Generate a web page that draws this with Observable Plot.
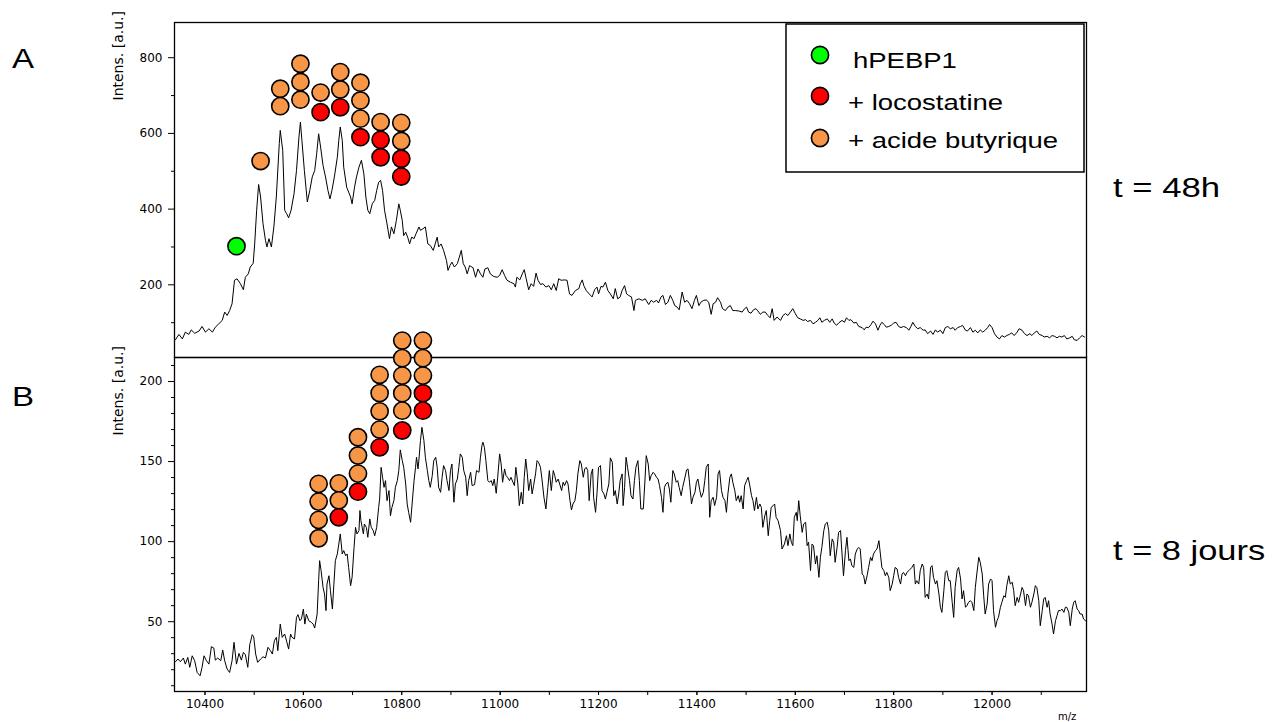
<!DOCTYPE html>
<html><head><meta charset="utf-8">
<script src="https://cdn.jsdelivr.net/npm/d3@7"></script>
<script src="https://cdn.jsdelivr.net/npm/@observablehq/plot@0.6"></script>
<style>
html,body{margin:0;padding:0;background:#fff;}
#wrap{position:relative;width:1273px;height:722px;overflow:hidden;font-family:"Liberation Sans",Arial,sans-serif;}
.layer{position:absolute;left:0;}
</style></head>
<body><div id="wrap"></div>
<script>
// ---------- data ----------
const xDomain = [10338, 12192];
const xMinorTicks = [10400,10500,10600,10700,10800,10900,11000,11100,11200,11300,11400,11500,11600,11700,11800,11900,12000,12100];
const xTickLabels = [10400, 10600, 10800, 11000, 11200, 11400, 11600, 11800, 12000];
const yTicksA = [200, 400, 600, 800];
const yMinorA = [100, 300, 500, 700];
const yTicksB = [50, 100, 150, 200];
const yMinorB = [10, 20, 30, 40, 60, 70, 80, 90, 110, 120, 130, 140, 160, 170, 180, 190, 210];
const seriesNames = ["hPEBP1", "+ locostatine", "+ acide butyrique"];
const seriesColors = ["#00ff00", "#ff0000", "#f79646"];
const panelLabels = ["A", "B"];
const timeLabels = ["t = 48h", "t = 8 jours"];
const yTitle = "Intens. [a.u.]";
const xTitle = "m/z";

// spectrum A (t = 48h): [m/z, intensity]
const spectrumA = [
[10340,55],[10347,69],[10354,57],[10360,75],[10367,69],[10372,81],[10379,72],[10388,78],[10394,90],[10401,75],[10408,84],[10415,75],[10421,88],[10428,97],[10435,106],[10440,128],[10445,119],[10450,132],[10455,150],[10460,212],[10465,216],[10472,203],[10478,187],[10482,220],[10488,229],[10492,247],[10498,257],[10501,308],[10505,397],[10509,465],[10513,432],[10518,361],[10523,317],[10526,300],[10530,322],[10535,300],[10540,353],[10545,432],[10551,573],[10553,608],[10558,555],[10562,397],[10566,388],[10570,377],[10575,397],[10581,441],[10586,502],[10591,590],[10594,630],[10597,582],[10602,502],[10608,419],[10613,449],[10618,485],[10623,502],[10627,546],[10631,599],[10635,564],[10640,515],[10645,485],[10650,449],[10654,427],[10658,449],[10663,485],[10669,537],[10672,582],[10675,617],[10679,582],[10682,511],[10688,458],[10692,445],[10696,432],[10699,414],[10704,458],[10708,485],[10713,511],[10718,529],[10723,493],[10727,432],[10731,397],[10735,388],[10740,414],[10745,423],[10749,449],[10753,471],[10757,476],[10761,449],[10765,397],[10770,361],[10775,322],[10779,353],[10784,335],[10789,370],[10794,414],[10797,397],[10801,370],[10804,330],[10808,339],[10812,326],[10816,308],[10820,326],[10825,322],[10829,335],[10835,353],[10838,344],[10843,348],[10848,353],[10853,308],[10858,304],[10864,291],[10869,313],[10872,326],[10875,300],[10880,308],[10885,291],[10891,264],[10894,238],[10898,251],[10902,260],[10907,247],[10913,256],[10917,273],[10921,291],[10925,256],[10929,247],[10933,229],[10938,251],
[10940,249],[10945,245],[10950,220],[10955,242],[10960,229],[10965,220],[10969,242],[10975,245],[10980,229],[10987,222],[10994,220],[10999,225],[11004,240],[11009,225],[11014,212],[11021,207],[11028,203],[11031,194],[11034,220],[11040,213],[11045,229],[11049,240],[11053,216],[11058,187],[11063,203],[11068,196],[11073,231],[11077,212],[11082,201],[11087,203],[11093,194],[11099,198],[11104,187],[11109,203],[11114,185],[11119,216],[11124,212],[11131,213],[11136,212],[11141,176],[11146,172],[11153,185],[11160,190],[11163,203],[11167,213],[11170,198],[11175,185],[11181,176],[11187,168],[11192,187],[11197,194],[11200,176],[11205,196],[11209,194],[11214,207],[11219,185],[11224,176],[11230,163],[11234,190],[11239,163],[11244,168],[11248,185],[11253,198],[11257,176],[11261,172],[11267,168],[11272,132],[11275,159],[11282,163],[11289,159],[11295,163],[11302,148],[11307,159],[11312,154],[11318,159],[11322,152],[11327,168],[11331,172],[11336,148],[11341,154],[11346,172],[11351,159],[11355,145],[11360,141],[11364,134],[11370,181],[11375,154],[11380,159],[11385,150],[11390,137],[11395,159],[11399,172],[11404,145],[11408,154],[11414,159],[11419,160],[11424,154],[11429,122],[11433,150],[11438,154],[11442,166],[11448,154],[11452,137],[11458,132],[11463,141],[11468,145],[11473,132],[11478,132],[11485,131],[11492,128],[11497,137],[11501,141],[11505,128],[11510,125],[11515,134],[11520,137],[11524,131],[11529,122],[11534,128],[11539,128],[11544,119],[11549,113],[11553,137],[11557,106],[11563,115],
[11570,106],[11575,119],[11580,124],[11585,119],[11590,128],[11595,137],[11600,124],[11605,113],[11610,110],[11616,106],[11621,108],[11625,103],[11631,106],[11636,97],[11641,101],[11646,106],[11650,113],[11654,101],[11659,106],[11665,110],[11670,101],[11675,110],[11679,99],[11684,93],[11688,99],[11695,106],[11700,101],[11704,113],[11709,106],[11713,108],[11719,99],[11724,101],[11729,90],[11736,87],[11740,81],[11744,88],[11749,87],[11754,95],[11758,104],[11763,97],[11768,80],[11772,93],[11776,101],[11781,95],[11785,88],[11790,90],[11795,93],[11800,99],[11805,101],[11810,90],[11815,87],[11820,90],[11826,87],[11831,80],[11835,90],[11839,101],[11844,90],[11849,84],[11854,87],[11860,80],[11864,81],[11869,71],[11875,78],[11880,69],[11885,81],[11889,75],[11895,80],[11900,71],[11905,87],[11910,90],[11915,84],[11921,87],[11925,80],[11930,87],[11936,90],[11940,93],[11946,80],[11950,78],[11956,87],[11961,75],[11966,80],[11971,73],[11976,81],[11981,75],[11986,80],[11991,87],[11995,95],[12000,87],[12005,71],[12010,62],[12015,57],[12020,66],[12025,62],[12030,66],[12035,69],[12040,73],[12045,66],[12051,75],[12055,84],[12061,80],[12066,71],[12071,66],[12077,71],[12081,66],[12086,73],[12091,78],[12096,69],[12102,66],[12106,62],[12112,64],[12117,60],[12122,66],[12127,64],[12132,60],[12137,64],[12142,62],[12147,66],[12152,57],[12158,60],[12163,64],[12167,55],[12173,53],[12178,60],[12183,66],[12188,62]
];

// spectrum B (t = 8 jours): [m/z, intensity]
const spectrumB = [
[10340,25],[10345,26.7],[10350,25],[10356,27.3],[10360,23.5],[10365,27.7],[10369,21.5],[10374,28.7],[10379,25.6],[10384,18.3],[10390,16.2],[10394,21.5],[10398,28.7],[10403,25.6],[10408,23.5],[10413,34.4],[10418,33.5],[10421,26],[10426,27.3],[10432,25.6],[10436,32.3],[10440,25.6],[10445,20.4],[10450,18.3],[10455,25.6],[10459,37.1],[10464,23.5],[10469,30.2],[10474,26],[10478,30.8],[10482,29.4],[10487,21.5],[10491,35.6],[10496,41.9],[10499,40.6],[10503,29.8],[10507,24.6],[10513,26.7],[10518,28.1],[10523,27.3],[10528,34],[10533,31.9],[10537,29.8],[10541,38.1],[10545,40.2],[10548,31.9],[10553,48.5],[10557,40.2],[10562,42.3],[10566,37.7],[10570,32.9],[10574,42.3],[10577,40.2],[10582,39.2],[10586,52.7],[10589,54.4],[10593,50.6],[10596,51.7],[10600,57.9],[10603,48.5],[10606,54.8],[10611,50.6],[10616,49.6],[10620,48.5],[10623,46],[10628,54.8],[10631,75.6],[10633,88.1],[10636,81.9],[10640,71.4],[10643,67.3],[10646,56.9],[10648,73.5],[10652,78.7],[10655,69.4],[10659,57.9],[10662,73.5],[10665,88.1],[10669,92.3],[10672,98.5],[10675,104.8],[10679,92.3],[10682,94.4],[10686,91.2],[10689,92.3],[10692,83.9],[10696,72.5],[10699,77.7],[10703,96.4],[10706,108.9],[10709,104.8],[10713,106.9],[10715,119.4],[10717,113.1],[10722,104.8],[10724,111],[10728,108.9],[10731,102.7],[10735,114.2],[10738,108.9],[10742,106.9],[10745,103.7],[10749,108.9],[10753,121.4],[10755,126.6],[10758,146.4],[10761,140.2],[10764,133.9],[10767,138.1],[10770,125.6],[10774,131.9],[10777,116.2],[10780,121.4],[10784,125.6],[10787,133.9],[10791,138.1],[10794,144.4],[10797,157.3],[10801,150.6],[10804,146.4],[10808,136],[10811,123.5],[10814,118.3],[10818,112.1],[10821,123.5],[10825,138.1],[10828,146.4],[10830,152.7],[10833,145.4],[10835,151.6],[10838,163.1],[10841,171.4],[10845,163.1],[10848,152.7],[10852,144.4],[10855,138.1],[10858,133.9],[10862,141.2],[10865,150.6],[10869,152.7],[10872,146.4],[10875,133.9],[10879,130.8],[10882,140.2],[10885,147.5],[10889,144.4],[10892,138.1],[10896,131.9],[10899,144.4],[10902,148.5],[10906,124.6],[10909,136],[10913,139.1],[10916,146.4],[10919,154.8],[10923,152.7],[10926,144.4],[10930,140.2],[10933,128.7],[10936,138.1],
[10940,143.3],[10943,135],[10948,135.6],[10952,144.4],[10957,143.3],[10960,152.7],[10963,160],[10965,162.1],[10968,158.9],[10971,150.6],[10975,138.1],[10978,137.1],[10982,138.1],[10985,135],[10988,139.1],[10992,130.2],[10995,140.2],[10999,154.8],[11002,148.5],[11005,137.1],[11009,145.4],[11012,141.2],[11015,140.2],[11019,138.1],[11022,140.2],[11026,137.1],[11029,135],[11032,146.4],[11036,136],[11039,122.5],[11043,130.8],[11046,123.5],[11049,140.2],[11052,151.6],[11055,143.3],[11058,131.9],[11062,139.1],[11065,129.8],[11068,135],[11072,142.3],[11075,150.6],[11078,149.6],[11082,146.4],[11085,139.1],[11089,127.7],[11093,120.4],[11097,133.9],[11100,144.4],[11104,131.9],[11108,144.4],[11111,141.2],[11114,137.1],[11118,139.1],[11121,136],[11125,131.9],[11128,137.1],[11131,135],[11135,138.1],[11138,136],[11142,125.6],[11145,119.8],[11148,123.5],[11152,125.6],[11155,131.9],[11158,142.3],[11162,150.6],[11165,148.5],[11169,140.2],[11172,145.4],[11175,146.4],[11178,144.4],[11181,125.6],[11185,142.3],[11188,145.4],[11190,127.7],[11194,118.3],[11197,130.8],[11200,146.4],[11204,147.5],[11207,131.9],[11211,129.8],[11214,126.6],[11217,130.8],[11221,136],[11224,152.3],[11228,149.6],[11231,128.7],[11234,131.9],[11238,123.5],[11241,129.8],[11244,138.1],[11248,142.3],[11250,122.5],[11253,133.9],[11256,152.7],[11259,146.4],[11263,138.1],[11266,128.7],[11270,126.6],[11273,138.1],[11276,146.4],[11280,150.6],[11283,138.1],[11286,120.4],[11291,120.4],[11294,136],[11297,153.7],[11301,148.5],[11304,138.1],[11307,141.2],[11311,143.3],[11314,142.3],[11318,140.2],[11321,139.1],[11324,135],[11328,127.7],[11331,118.3],[11334,133.9],[11337,136],[11341,137.1],[11344,132.9],[11347,124.6],[11351,144.4],[11354,142.3],[11358,137.1],[11361,138.1],[11364,133.9],[11368,128.7],[11371,133.9],[11375,139.1],[11379,144.8],[11382,145.4],[11385,137.1],[11389,123.5],[11392,127.7],[11396,130.8],[11399,137.1],[11402,139.1],[11406,131.9],[11409,127.7],[11413,130.8],[11416,138.1],[11419,146.4],[11423,148.5],[11426,115.2],[11429,125.6],[11433,127.7],[11436,122.5],[11440,127.7],[11443,142.3],[11446,144.4],[11450,131.9],[11453,127.7],[11457,125.6],[11460,118.3],[11463,129.8],[11467,140.2],[11470,142.3],[11473,137.1],[11477,131.9],[11480,125.6],[11484,128.7],[11487,124.6],[11490,128.7],[11494,120.4],[11497,135],[11501,138.1],[11504,140.2],[11507,136],[11511,128.7],[11514,125.6],[11517,119.4],[11521,127.7],[11524,120.4],[11528,123.5],[11531,121.4],[11534,108.9],[11538,116.2],[11541,119.4],[11545,103.7],[11548,113.1],[11551,121.4],[11555,122.5],[11558,123.5],[11561,115.2],[11565,113.1],
[11570,106.9],[11573,95.4],[11578,98.5],[11582,103.7],[11585,97.5],[11589,104.8],[11592,99.6],[11595,97.5],[11598,115.2],[11602,118.3],[11604,113.1],[11607,125.6],[11610,116.2],[11614,105.8],[11617,111],[11621,112.1],[11624,97.5],[11627,99.6],[11631,81.9],[11634,98.5],[11637,97.5],[11641,86],[11644,91.2],[11648,77.7],[11651,90.2],[11654,96.4],[11658,106.9],[11661,111],[11665,112.1],[11668,106.9],[11671,91.2],[11675,101.7],[11678,99.6],[11681,87.1],[11685,96.4],[11688,105.8],[11692,106.9],[11695,92.3],[11698,78.7],[11702,94.4],[11705,102.7],[11709,88.1],[11712,89.2],[11715,85],[11719,83.9],[11722,92.3],[11726,95.4],[11729,96.4],[11732,95.4],[11736,79.8],[11739,78.7],[11742,73.5],[11746,78.7],[11749,83.9],[11753,90.2],[11756,88.1],[11759,92.3],[11763,94.4],[11766,95.4],[11770,100.6],[11773,92.3],[11776,83.9],[11780,81.9],[11783,78.7],[11786,80.8],[11790,77.7],[11793,69.4],[11797,73.5],[11800,78.7],[11803,83.9],[11807,82.9],[11810,77.7],[11814,73.5],[11817,79.8],[11820,80.8],[11824,78.7],[11827,80.8],[11831,81.9],[11834,82.9],[11837,83.9],[11841,86],[11844,73.5],[11847,75.6],[11851,73.5],[11854,81.9],[11858,86],[11861,83.9],[11864,65.2],[11868,67.3],[11871,64.2],[11875,83.9],[11878,85],[11881,77.7],[11885,73.5],[11888,75.6],[11892,67.3],[11895,59],[11898,55.8],[11902,69.4],[11905,80.8],[11908,81.9],[11912,75.6],[11915,75.6],[11919,62.1],[11922,52.7],[11925,71.4],[11929,81.9],[11932,83.9],[11936,76.7],[11939,64.2],[11942,69.4],[11946,59],[11949,60],[11952,62.1],[11956,63.1],[11959,62.1],[11963,56.9],[11966,71.4],[11969,79.8],[11973,90.2],[11976,87.1],[11980,79.8],[11983,66.2],[11986,54.8],[11990,61],[11993,73.5],[11997,76.7],[12000,75.6],[12003,56.9],[12007,46.5],[12010,50.6],[12013,52.7],[12017,59],[12020,62.1],[12024,66.2],[12027,65.2],[12030,72.5],[12034,78.7],[12037,73.5],[12041,74.6],[12044,69.4],[12047,60],[12051,65.2],[12054,62.1],[12058,67.3],[12061,71.4],[12064,69.4],[12068,60],[12071,67.3],[12074,66.2],[12078,59],[12081,62.1],[12085,67.3],[12088,72.5],[12091,71.4],[12095,63.1],[12098,47.5],[12102,56.9],[12105,64.2],[12108,65.2],[12112,59],[12115,63.1],[12118,54.8],[12122,48.5],[12125,42.3],[12129,50.6],[12132,53.7],[12135,56.9],[12139,56.9],[12142,57.9],[12146,55.8],[12149,59],[12152,59],[12156,55.8],[12159,47.5],[12163,57.9],[12166,62.1],[12169,63.1],[12173,57.9],[12176,56.9],[12179,54.8],[12183,54.8],[12186,51.7],[12190,50.6]
];

// annotated peaks: [m/z, intensity, series]
const peaksA = [
[10464,302,"hPEBP1"],
[10513,527,"+ acide butyrique"],
[10553,718,"+ acide butyrique"],[10553,672,"+ acide butyrique"],
[10594,784,"+ acide butyrique"],[10594,736,"+ acide butyrique"],[10594,689,"+ acide butyrique"],
[10635,708,"+ acide butyrique"],[10635,656,"+ locostatine"],
[10675,762,"+ acide butyrique"],[10675,716,"+ acide butyrique"],[10675,669,"+ locostatine"],
[10716,734,"+ acide butyrique"],[10716,687,"+ acide butyrique"],[10716,639,"+ acide butyrique"],[10716,590,"+ locostatine"],
[10757,630,"+ acide butyrique"],[10757,583,"+ locostatine"],[10757,537,"+ locostatine"],
[10799,628,"+ acide butyrique"],[10799,580,"+ acide butyrique"],[10799,533,"+ locostatine"],[10799,486,"+ locostatine"]
];
const peaksB = [
[10631,136.1,"+ acide butyrique"],[10631,125,"+ acide butyrique"],[10631,113.6,"+ acide butyrique"],[10631,102.1,"+ acide butyrique"],
[10672,136.4,"+ acide butyrique"],[10672,125.8,"+ acide butyrique"],[10672,115.2,"+ locostatine"],
[10711,165.2,"+ acide butyrique"],[10711,153.8,"+ acide butyrique"],[10711,142.5,"+ acide butyrique"],[10711,131.2,"+ locostatine"],
[10755,204.2,"+ acide butyrique"],[10755,192.8,"+ acide butyrique"],[10755,181.4,"+ acide butyrique"],[10755,170,"+ acide butyrique"],[10755,158.9,"+ locostatine"],
[10801,225.6,"+ acide butyrique"],[10801,214.6,"+ acide butyrique"],[10801,203.7,"+ acide butyrique"],[10801,192.7,"+ acide butyrique"],[10801,181.8,"+ acide butyrique"],[10801,169.4,"+ locostatine"],
[10843,225.6,"+ acide butyrique"],[10843,214.6,"+ acide butyrique"],[10843,203.7,"+ acide butyrique"],[10843,192.7,"+ locostatine"],[10843,181.8,"+ locostatine"]
];

// ---------- drawing ----------
const W = 1273;
const mL = 174, mR = 187;
const plotW = W - mL - mR;
const tickFont = "DejaVu Sans, sans-serif";
const colorScale = {domain: seriesNames, range: seriesColors};

function panel({data, peaks, yDomain, yTicks, yMinor, height, marginTop, marginBottom, withX}) {
  const plotH = height - marginTop - marginBottom;
  const marks = [
    Plot.line(data, {x: d => d[0], y: d => d[1], stroke: "#000", strokeWidth: 1}),
    Plot.frame({stroke: "#000", strokeWidth: 1.3}),
    Plot.ruleY(yMinor, {insetRight: plotW - 3, dx: -3, stroke: "#000", strokeWidth: 1}),
    Plot.text([yTitle], {frameAnchor: "top-left", rotate: -90, dx: -56, dy: 78, textAnchor: "start", lineAnchor: "middle", fontSize: 14, fill: "#000"}),
    Plot.dot(peaks, {x: d => d[0], y: d => d[1], fill: d => d[2], r: 8.6, stroke: "#000", strokeWidth: 1.6})
  ];
  if (withX) {
    marks.push(Plot.ruleX(xMinorTicks, {insetTop: plotH - 4, dy: 4, stroke: "#000", strokeWidth: 1}));
  }
  return Plot.plot({
    width: W, height, marginLeft: mL, marginRight: mR, marginTop, marginBottom,
    style: {overflow: "visible", background: "transparent", fontFamily: tickFont, fontSize: "12px", color: "#000"},
    x: withX ? {domain: xDomain, ticks: xTickLabels, tickSize: 4, tickPadding: 4, tickFormat: d => String(d), label: null}
             : {domain: xDomain, axis: null},
    y: {domain: yDomain, ticks: yTicks, tickSize: 6, tickPadding: 6, tickFormat: d => String(d), label: null},
    color: colorScale,
    marks
  });
}

const wrap = document.getElementById("wrap");
const topPlot = panel({data: spectrumA, peaks: peaksA, yDomain: [8, 893], yTicks: yTicksA, yMinor: yMinorA, height: 357, marginTop: 22, marginBottom: 0, withX: false});
const botPlot = panel({data: spectrumB, peaks: peaksB, yDomain: [6.4, 215], yTicks: yTicksB, yMinor: yMinorB, height: 365, marginTop: 0, marginBottom: 31, withX: true});
const d1 = document.createElement("div"); d1.className = "layer"; d1.style.top = "0px"; d1.appendChild(topPlot); wrap.appendChild(d1);
const d2 = document.createElement("div"); d2.className = "layer"; d2.style.top = "357px"; d2.appendChild(botPlot); wrap.appendChild(d2);

// annotation overlay (labels + legend)
const ov = d3.select(wrap).append("svg").attr("class", "layer").style("top", "0px")
  .attr("width", W).attr("height", 722).style("pointer-events", "none")
  .style("font-family", "Liberation Sans, Arial, sans-serif");
function stretched(g, txt, x, y, size, sx) {
  g.append("text").attr("transform", `translate(${x},${y}) scale(${sx},1)`).attr("font-size", size).attr("fill", "#000").text(txt);
}
stretched(ov, panelLabels[0], 12, 68, 28, 1.18);
stretched(ov, panelLabels[1], 12, 406, 28, 1.18);
stretched(ov, timeLabels[0], 1113, 197, 28, 1.24);
stretched(ov, timeLabels[1], 1113, 560, 28, 1.23);
ov.append("text").attr("x", 1058).attr("y", 720).attr("font-size", 10).attr("font-family", tickFont).text(xTitle);

// legend
const lg = ov.append("g");
lg.append("rect").attr("x", 786).attr("y", 24).attr("width", 298).attr("height", 148).attr("fill", "#fff").attr("stroke", "#000").attr("stroke-width", 1.5);
const legY = [55, 96, 138], legBase = [68, 110, 148], legX = [853, 848, 848];
seriesNames.forEach((name, i) => {
  lg.append("circle").attr("cx", 820).attr("cy", legY[i]).attr("r", 8.6).attr("fill", seriesColors[i]).attr("stroke", "#000").attr("stroke-width", 1.6);
  stretched(lg, name, legX[i], legBase[i], 22, 1.25);
});
</script></body></html>
